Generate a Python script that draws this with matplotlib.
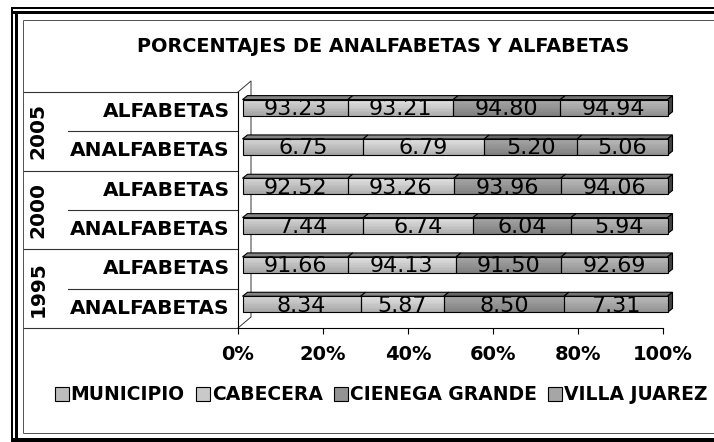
import numpy as np
import matplotlib
matplotlib.use("Agg")
import matplotlib.pyplot as plt
import matplotlib.transforms as mtransforms
from matplotlib.patches import Polygon, Patch
from matplotlib.lines import Line2D

# data (rows from bottom to top)
series = ["MUNICIPIO", "CABECERA", "CIENEGA GRANDE", "VILLA JUAREZ"]
colors = ["#bdbdbd", "#c9c9c9", "#939393", "#a6a6a6"]
rows = ["ANALFABETAS", "ALFABETAS"] * 3
years = ["1995", "2000", "2005"]

municipio = [8.34, 91.66, 7.44, 92.52, 6.75, 93.23]
cabecera = [5.87, 94.13, 6.74, 93.26, 6.79, 93.21]
cienega = [8.50, 91.50, 6.04, 93.96, 5.20, 94.80]
villa = [7.31, 92.69, 5.94, 94.06, 5.06, 94.94]

title = "PORCENTAJES DE ANALFABETAS Y ALFABETAS"
xticks = [0, 20, 40, 60, 80, 100]

W, H = 714, 442
fig = plt.figure(figsize=(W / 100, H / 100), dpi=100)
fig.patch.set_facecolor("white")

# front plane of the plot area in pixels
ax_l, ax_r, ax_t, ax_b = 238, 663, 92, 328
ax = fig.add_axes([ax_l / W, 1 - ax_b / H, (ax_r - ax_l) / W, (ax_b - ax_t) / H])
ax.set_xlim(0, 100)
ax.set_ylim(-0.5, 5.5)
ax.set_facecolor("none")

px_x = 100 / (ax_r - ax_l)
px_y = 6 / (ax_b - ax_t)

vals = np.array([municipio, cabecera, cienega, villa])
pct = vals / vals.sum(axis=0) * 100
lefts = np.vstack([np.zeros(6), np.cumsum(pct, axis=0)[:-1]])

h = 0.41
dx, dy = 5 * px_x, 4 * px_y  # bar depth
front = ax.transData + mtransforms.ScaledTranslation(4.5 / 100, 4 / 100, fig.dpi_scale_trans)


def shade(c, f):
    r, g, b = matplotlib.colors.to_rgb(c)
    return (min(r * f, 1), min(g * f, 1), min(b * f, 1))


ypos = np.arange(6)
nstrip = 10
for j in range(4):
    # vertical gradient on the front face, lighter at the top
    for k in range(nstrip):
        f = 1.12 - 0.24 * k / (nstrip - 1)
        yc = ypos + h / 2 - (k + 0.5) * h / nstrip
        strips = ax.barh(yc, pct[j], height=h / nstrip * 1.05, left=lefts[j],
                         color=shade(colors[j], f), linewidth=0, transform=front, zorder=3)
        for s in strips:
            s.set_clip_on(False)
    bars = ax.barh(ypos, pct[j], height=h, left=lefts[j], facecolor="none",
                   edgecolor="black", linewidth=0.8, transform=front, zorder=4)
    for b in bars:
        b.set_clip_on(False)
    for i in ypos:
        l, w = lefts[j][i], pct[j][i]
        top = Polygon([(l, i + h / 2), (l + w, i + h / 2),
                       (l + w + dx, i + h / 2 + dy), (l + dx, i + h / 2 + dy)],
                      closed=True, facecolor=shade(colors[j], 0.7),
                      edgecolor="black", linewidth=0.8, transform=front,
                      zorder=2, clip_on=False)
        ax.add_patch(top)
        ax.text(l + w / 2, i - 0.03, f"{vals[j][i]:.2f}", transform=front,
                ha="center", va="center", fontsize=16, color="black",
                zorder=5, clip_on=False)
        if j == 3:
            side = Polygon([(l + w, i - h / 2), (l + w, i + h / 2),
                            (l + w + dx, i + h / 2 + dy), (l + w + dx, i - h / 2 + dy)],
                           closed=True, facecolor=shade(colors[j], 0.4),
                           edgecolor="black", linewidth=0.8, transform=front,
                           zorder=2, clip_on=False)
            ax.add_patch(side)

# side wall
wx, wy = 13 * px_x, 11 * px_y
ax.plot([0, wx, wx, 0], [5.5, 5.5 + wy, -0.5 + wy, -0.5], color="#333333",
        lw=0.7, clip_on=False, zorder=1)

for s in ["top", "right"]:
    ax.spines[s].set_visible(False)
ax.spines["left"].set_linewidth(0.8)
ax.spines["bottom"].set_linewidth(0.8)
ax.set_yticks([])
ax.set_xticks(xticks)
ax.set_xticklabels([f"{t}%" for t in xticks], fontsize=14, fontweight="bold")
ax.tick_params(axis="x", direction="out", length=4, width=0.8, pad=8)

# category labels and separators
yt = ax.get_yaxis_transform()
for i, name in enumerate(rows):
    ax.text(-8 / 425, i, name, transform=yt, ha="right", va="center",
            fontsize=14.5, fontweight="bold")
for k, b in enumerate(np.arange(-0.5, 6, 1)):
    x0 = (23 - ax_l) / 425 if k % 2 == 0 else (68 - ax_l) / 425
    ax.plot([x0, 0], [b, b], transform=yt, color="#333333", lw=0.8, clip_on=False)
for g, yr in enumerate(years):
    ax.text((38 - ax_l) / 425, 2 * g + 0.5, yr, transform=yt, rotation=90,
            ha="center", va="center", fontsize=14.5, fontweight="bold")

fig.text(383 / W, 1 - 47 / H, title, ha="center", va="center",
         fontsize=13.9, fontweight="bold")

handles = [Patch(facecolor=c, edgecolor="black", linewidth=0.8) for c in colors]
fig.legend(handles, series, loc="center", bbox_to_anchor=(381 / W, 1 - 395 / H),
           ncol=4, frameon=False, handlelength=0.75, handleheight=0.75,
           handletextpad=0.1, columnspacing=0.6,
           prop={"size": 13.5, "weight": "bold"})

# frame around the chart
def fline(xs, ys, lw, color="black"):
    fig.add_artist(Line2D([x / W for x in xs], [1 - y / H for y in ys],
                          color=color, lw=lw * 0.72, solid_capstyle="butt"))

fline([11, W], [7.5, 7.5], 2)
fline([11, W], [11.5, 11.5], 3)
fline([12, 12], [7, 442], 2)
fline([16, 16], [11, 442], 3)
fline([11, W], [439.5, 439.5], 4)
fline([23, W], [20, 20], 1, "#555555")
fline([23, 23], [20, 433], 1, "#555555")
fline([23, W], [433, 433], 1, "#555555")

fig.savefig("out.png", dpi=100)
